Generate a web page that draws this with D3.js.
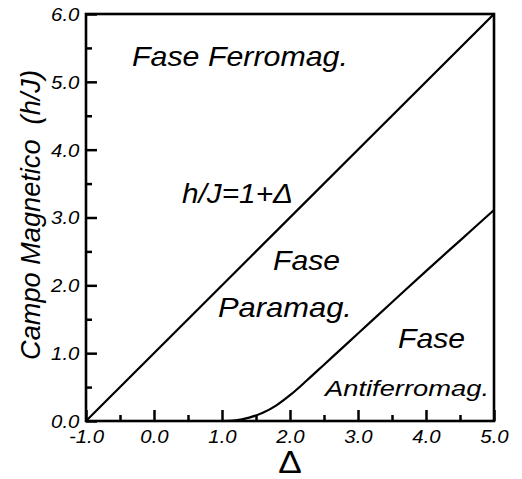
<!DOCTYPE html>
<html><head><meta charset="utf-8">
<script src="https://cdn.jsdelivr.net/npm/d3@7"></script>
<style>body{margin:0;background:#fff;} svg{display:block;} text{font-family:"Liberation Sans",Arial,Helvetica,sans-serif;}</style>
</head><body>
<script>
// ---- Data ----
const lineDelta = [-1.0, 5.0];            // boundary h/J = 1 + Δ
const lineH = [0.0, 6.0];
const curveDelta = [1.0, 1.2, 1.4, 1.6, 1.8, 2.0, 2.25, 2.5, 2.75, 3.0, 3.5, 4.0, 4.5, 5.0];
const curveH     = [0.0, 0.01, 0.05, 0.12, 0.23, 0.38, 0.60, 0.83, 1.06, 1.29, 1.75, 2.21, 2.66, 3.11];
const xTicks = [-1, 0, 1, 2, 3, 4, 5];
const xMinor = [-0.5, 0.5, 1.5, 2.5, 3.5, 4.5];
const yTicks = [0, 1, 2, 3, 4, 5, 6];
const yMinor = [0.5, 1.5, 2.5, 3.5, 4.5, 5.5];
const regionText = ["Fase Ferromag.", "h/J=1+\u0394", "Fase", "Paramag.", "Fase", "Antiferromag."];
const xTitle = "\u0394";
const yTitle = "Campo Magnetico  (h/J)";

// ---- Layout (positions in data units, sizes in px) ----
const regionLayout = [
  {d:-0.324, h:5.233, size:27, w:216},
  {d: 0.412, h:3.214, size:27, w:111},
  {d: 1.750, h:2.226, size:27, w:67},
  {d: 0.941, h:1.533, size:27, w:134},
  {d: 3.588, h:1.076, size:27, w:67},
  {d: 2.515, h:0.362, size:21.5, w:164}
];
const SX = 1.1; // horizontal glyph stretch seen in the reference

const W = 522, H = 479;
const m = {l:86, r:28, t:14, b:58};
const svg = d3.select("body").append("svg").attr("width", W).attr("height", H);
const x = d3.scaleLinear().domain([-1, 5]).range([m.l, W - m.r]);
const y = d3.scaleLinear().domain([0, 6]).range([H - m.b, m.t]);
const fmt = d => d.toFixed(1);

// axes (ticks inward)
const xAxis = svg.append("g").attr("transform", `translate(0,${y(0)})`)
  .call(d3.axisBottom(x).tickValues(xTicks).tickSize(-11).tickPadding(9).tickFormat(fmt));
svg.append("g").attr("transform", `translate(0,${y(0)})`)
  .call(d3.axisBottom(x).tickValues(xMinor).tickSize(-6).tickFormat(""));
const yAxis = svg.append("g").attr("transform", `translate(${x(-1)},0)`)
  .call(d3.axisLeft(y).tickValues(yTicks).tickSize(-11).tickPadding(6).tickFormat(fmt));
svg.append("g").attr("transform", `translate(${x(-1)},0)`)
  .call(d3.axisLeft(y).tickValues(yMinor).tickSize(-6).tickFormat(""));
svg.selectAll(".domain").remove();
svg.selectAll(".tick line").attr("stroke", "#000").attr("stroke-width", 2.5);
svg.selectAll(".tick text").attr("font-size", 18.5).attr("font-style", "italic").attr("fill", "#000")
  .attr("font-family", "'Liberation Sans',Arial,sans-serif").attr("transform", `scale(${SX},1)`);
xAxis.selectAll(".tick text").attr("dy", "0.71em");
yAxis.selectAll(".tick text").attr("dy", "0.35em");

// frame
svg.append("rect").attr("x", x(-1)).attr("y", y(6)).attr("width", x(5) - x(-1)).attr("height", y(0) - y(6))
  .attr("fill", "none").attr("stroke", "#000").attr("stroke-width", 2.6);

// boundary lines
const lineGen = d3.line().x(d => x(d[0])).y(d => y(d[1]));
svg.append("path").datum(lineDelta.map((d, i) => [d, lineH[i]]))
  .attr("d", lineGen).attr("fill", "none").attr("stroke", "#000").attr("stroke-width", 2.2);
svg.append("path").datum(curveDelta.map((d, i) => [d, curveH[i]]))
  .attr("d", lineGen.curve(d3.curveMonotoneX)).attr("fill", "none").attr("stroke", "#000").attr("stroke-width", 2.2);

// region labels
regionText.forEach((t, i) => {
  const L = regionLayout[i];
  const txt = svg.append("text").attr("x", 0).attr("y", 0).attr("font-size", L.size)
    .attr("font-style", "italic").attr("fill", "#000").text(t);
  const len = txt.node().getComputedTextLength();
  txt.attr("transform", `translate(${x(L.d)},${y(L.h)}) scale(${L.w / len},1)`);
});

// axis titles
svg.append("text").attr("transform", `translate(${(x(-1) + x(5)) / 2},473) scale(${SX},1)`)
  .attr("text-anchor", "middle").attr("font-size", 32).attr("fill", "#000").text(xTitle);
const yt = svg.append("text").attr("text-anchor", "middle").attr("font-size", 25)
  .attr("font-style", "italic").attr("fill", "#000").attr("xml:space", "preserve").text(yTitle);
const yLen = yt.node().getComputedTextLength();
yt.attr("transform", `translate(40,215) rotate(-90) scale(${290 / yLen},${SX})`);
</script>
</body></html>
